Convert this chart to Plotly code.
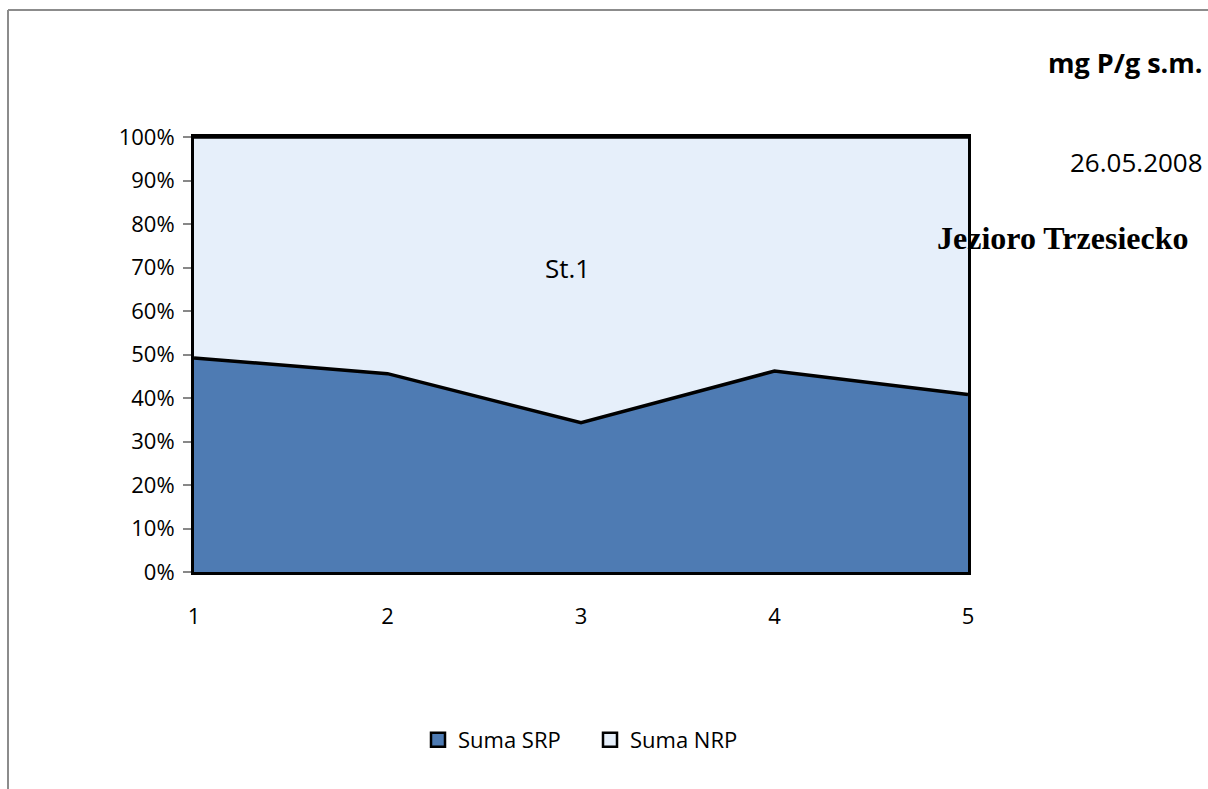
import plotly.graph_objects as go

# Sample stations along the transect
stations = [1, 2, 3, 4, 5]
# Share of each phosphorus fraction (%)
suma_srp = [49.2, 45.6, 34.3, 46.2, 40.8]
suma_nrp = [50.8, 54.4, 65.7, 53.8, 59.2]

y_ticks = [0, 10, 20, 30, 40, 50, 60, 70, 80, 90, 100]
y_tick_text = [f"{v}%" for v in y_ticks]

SRP_COLOR = "#4E7BB3"
NRP_COLOR = "#E6EFFA"

W, H = 1208, 789
ML, MR, MT, MB = 194, 240, 137, 217
PW, PH = W - ML - MR, H - MT - MB


def px(x):
    return (x - ML) / PW


def py(y):
    return (H - MB - y) / PH


FONT = "Open Sans"

fig = go.Figure()
fig.add_trace(go.Scatter(
    x=stations, y=suma_srp, name="Suma SRP", stackgroup="p",
    mode="lines", line=dict(color="black", width=3.5),
    fillcolor=SRP_COLOR, showlegend=False,
))
fig.add_trace(go.Scatter(
    x=stations, y=suma_nrp, name="Suma NRP", stackgroup="p",
    mode="lines", line=dict(color="black", width=3.5),
    fillcolor=NRP_COLOR, showlegend=False,
))
# square legend keys
for name, col in [("Suma SRP", SRP_COLOR), ("Suma NRP", NRP_COLOR)]:
    fig.add_trace(go.Scatter(
        x=[None], y=[None], name=name, mode="markers",
        marker=dict(symbol="square", size=14, color=col,
                    line=dict(color="black", width=2.5)),
    ))

fig.update_layout(
    width=W, height=H,
    margin=dict(l=ML, r=MR, t=MT, b=MB),
    paper_bgcolor="white", plot_bgcolor="white",
    font=dict(family=FONT, size=22, color="black"),
    showlegend=True,
    legend=dict(
        orientation="h", x=px(418), y=py(740), xanchor="left", yanchor="middle",
        font=dict(family=FONT, size=22, color="black"), itemwidth=30,
        entrywidth=127, entrywidthmode="pixels",
        traceorder="normal",
    ),
    xaxis=dict(
        range=[1, 5], tickvals=stations, ticktext=[str(s) for s in stations],
        tickfont=dict(family=FONT, size=22, color="black"),
        showgrid=False, zeroline=False, showline=True, linecolor="black",
        linewidth=3, mirror=True, ticks="", ticklabelstandoff=23,
    ),
    yaxis=dict(
        range=[0, 100], tickvals=y_ticks, ticktext=y_tick_text,
        tickfont=dict(family=FONT, size=22, color="black"),
        showgrid=False, zeroline=False, showline=True, linecolor="black",
        linewidth=3, mirror=True, ticks="outside", ticklen=8,
        tickcolor="#888888", tickwidth=2, ticklabelstandoff=4,
    ),
    shapes=[
        dict(type="line", xref="paper", yref="paper",
             x0=px(8), x1=px(8), y0=py(10), y1=py(H + 5),
             line=dict(color="#8c8c8c", width=2)),
        dict(type="line", xref="paper", yref="paper",
             x0=px(8), x1=px(W + 5), y0=py(10), y1=py(10),
             line=dict(color="#8c8c8c", width=2)),
    ],
    annotations=[
        dict(text="<b>mg P/g s.m.</b>", xref="paper", yref="paper",
             x=px(1205), y=py(62), xanchor="right", yanchor="middle",
             showarrow=False, font=dict(family=FONT, size=27, color="black")),
        dict(text="26.05.2008", xref="paper", yref="paper",
             x=px(1205), y=py(162), xanchor="right", yanchor="middle",
             showarrow=False, font=dict(family=FONT, size=26, color="black")),
        dict(text="<b>Jezioro Trzesiecko</b>", xref="paper", yref="paper",
             x=px(935), y=py(238), xanchor="left", yanchor="middle",
             showarrow=False, font=dict(family="Liberation Serif", size=32, color="black")),
        dict(text="St.1", xref="paper", yref="paper",
             x=px(567), y=py(268), xanchor="center", yanchor="middle",
             showarrow=False, font=dict(family=FONT, size=26, color="black")),
    ],
)

fig.write_html("out.html")
